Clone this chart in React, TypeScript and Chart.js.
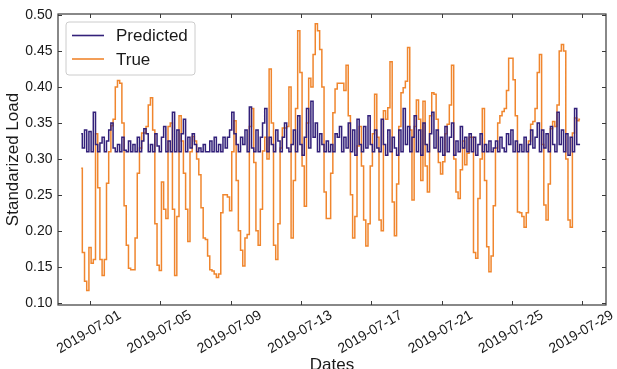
import React, { useEffect, useRef } from 'react';
import { Chart, registerables } from 'chart.js';

Chart.register(...registerables);

// Time grid: days relative to 2019-07-01 00:00, 3-hour steps
const START_DAY = -0.5;
const STEP_DAYS = 0.125;

const TRUE_VALUES = [
  0.287, 0.17, 0.13, 0.117, 0.177, 0.155, 0.16, 0.335,
  0.26, 0.16, 0.138, 0.16, 0.266, 0.31, 0.346, 0.355,
  0.4, 0.409, 0.405, 0.35, 0.235, 0.18, 0.148, 0.146,
  0.146, 0.19, 0.28, 0.315, 0.336, 0.336, 0.345, 0.375,
  0.385, 0.34, 0.21, 0.152, 0.145, 0.268, 0.23, 0.217,
  0.345, 0.35, 0.23, 0.138, 0.22, 0.36, 0.325, 0.28,
  0.23, 0.185, 0.31, 0.331, 0.325, 0.3, 0.278, 0.232,
  0.19, 0.188, 0.165, 0.146, 0.144, 0.14, 0.135, 0.14,
  0.225, 0.25, 0.25, 0.247, 0.228, 0.31, 0.353, 0.27,
  0.2, 0.173, 0.151, 0.19, 0.195, 0.345, 0.37, 0.295,
  0.2, 0.18, 0.23, 0.311, 0.33, 0.3, 0.425, 0.35,
  0.18, 0.16, 0.21, 0.315, 0.343, 0.343, 0.345, 0.4,
  0.19, 0.27, 0.37, 0.478, 0.42, 0.29, 0.234, 0.35,
  0.412, 0.4, 0.445, 0.488, 0.478, 0.452, 0.4, 0.254,
  0.217, 0.217, 0.28, 0.364, 0.397, 0.405, 0.405, 0.405,
  0.395, 0.43, 0.36, 0.25, 0.19, 0.22, 0.318, 0.345,
  0.29, 0.215, 0.179, 0.21, 0.29, 0.335, 0.39, 0.33,
  0.215, 0.2, 0.367, 0.355, 0.371, 0.435, 0.24, 0.193,
  0.265, 0.345, 0.392, 0.399, 0.408, 0.455, 0.34, 0.243,
  0.345, 0.382, 0.355, 0.27, 0.38, 0.29, 0.254, 0.36,
  0.392, 0.39, 0.355, 0.295, 0.279, 0.296, 0.335, 0.348,
  0.375, 0.43, 0.3, 0.254, 0.245, 0.285, 0.325, 0.292,
  0.308, 0.33, 0.33, 0.17, 0.162, 0.245, 0.3, 0.37,
  0.27, 0.178, 0.143, 0.165, 0.235, 0.315, 0.35, 0.36,
  0.366, 0.37, 0.395, 0.44, 0.44, 0.41, 0.36, 0.226,
  0.225, 0.22, 0.205, 0.225, 0.325, 0.348, 0.352, 0.37,
  0.42, 0.445, 0.32, 0.236, 0.215, 0.265, 0.342, 0.352,
  0.345, 0.375, 0.45, 0.459, 0.45, 0.3, 0.215, 0.205,
  0.336, 0.357, 0.353, 0.355,
];

const PREDICTED_VALUES = [
  0.335, 0.315, 0.34, 0.31, 0.338, 0.31, 0.365, 0.32,
  0.31, 0.322, 0.33, 0.31, 0.325, 0.34, 0.35, 0.315,
  0.31, 0.32, 0.31, 0.33, 0.312, 0.31, 0.325, 0.31,
  0.32, 0.31, 0.33, 0.31, 0.325, 0.342, 0.335, 0.31,
  0.32, 0.31, 0.335, 0.318, 0.31, 0.33, 0.345, 0.31,
  0.325, 0.31, 0.365, 0.31, 0.34, 0.31, 0.335, 0.355,
  0.31, 0.33, 0.315, 0.335, 0.32, 0.31, 0.315, 0.31,
  0.32, 0.31, 0.31, 0.325, 0.31, 0.33, 0.31, 0.32,
  0.31, 0.33, 0.315, 0.33, 0.34, 0.365, 0.335, 0.32,
  0.31, 0.33, 0.32, 0.34, 0.31, 0.372, 0.315, 0.31,
  0.34, 0.31, 0.33, 0.35, 0.37, 0.31, 0.33, 0.32,
  0.31, 0.34, 0.325, 0.31, 0.33, 0.35, 0.315, 0.31,
  0.32, 0.34, 0.31, 0.36, 0.32, 0.305, 0.33, 0.37,
  0.315, 0.38, 0.33, 0.35, 0.31, 0.335, 0.32, 0.31,
  0.325, 0.31, 0.32, 0.31, 0.335, 0.33, 0.345, 0.31,
  0.33, 0.315, 0.35, 0.31, 0.34, 0.305, 0.355, 0.32,
  0.31, 0.345, 0.315, 0.36, 0.32, 0.31, 0.34, 0.315,
  0.31, 0.355, 0.32, 0.305, 0.34, 0.31, 0.33, 0.315,
  0.305, 0.34, 0.31, 0.37, 0.32, 0.345, 0.31, 0.33,
  0.36, 0.31, 0.34, 0.305, 0.35, 0.32, 0.31, 0.335,
  0.365, 0.315, 0.34, 0.31, 0.33, 0.305, 0.345, 0.31,
  0.33, 0.35, 0.305, 0.325, 0.31, 0.345, 0.315, 0.33,
  0.31, 0.335, 0.31, 0.33, 0.305, 0.32, 0.335, 0.31,
  0.32, 0.31, 0.325, 0.31, 0.315, 0.325, 0.31, 0.33,
  0.315, 0.31, 0.335, 0.32, 0.34, 0.31, 0.325, 0.31,
  0.32, 0.31, 0.33, 0.31, 0.32, 0.34, 0.315, 0.33,
  0.35, 0.31, 0.34, 0.315, 0.335, 0.31, 0.345, 0.32,
  0.31, 0.365, 0.32, 0.34, 0.31, 0.335, 0.305, 0.33,
  0.31, 0.37, 0.32, 0.32,
];

const X_TICK_DAYS = [0, 4, 8, 12, 16, 20, 24, 28];
const X_TICK_LABELS = [
  '2019-07-01', '2019-07-05', '2019-07-09', '2019-07-13',
  '2019-07-17', '2019-07-21', '2019-07-25', '2019-07-29',
];
const Y_TICKS = [0.1, 0.15, 0.2, 0.25, 0.3, 0.35, 0.4, 0.45, 0.5];

const SERIES_LABELS = ['Predicted', 'True'];
const COLORS = ['#33217a', '#f0862e'];
const FONT = '"Liberation Sans", Arial, sans-serif';

const W = 617;
const H = 376;

const framePlugin = {
  id: 'frameTicks',
  afterDatasetsDraw(chart: any) {
    const { ctx, chartArea: a, scales } = chart;
    ctx.save();
    ctx.strokeStyle = '#3a3a3a';
    ctx.lineWidth = 1.2;
    ctx.strokeRect(a.left, a.top, a.right - a.left, a.bottom - a.top);
    ctx.lineWidth = 1;
    const tl = 4;
    ctx.beginPath();
    for (const t of scales.x.ticks) {
      const px = Math.round(scales.x.getPixelForValue(t.value)) + 0.5;
      ctx.moveTo(px, a.bottom);
      ctx.lineTo(px, a.bottom - tl);
      ctx.moveTo(px, a.top);
      ctx.lineTo(px, a.top + tl);
    }
    for (const t of scales.y.ticks) {
      const py = Math.round(scales.y.getPixelForValue(t.value)) + 0.5;
      ctx.moveTo(a.left, py);
      ctx.lineTo(a.left + tl, py);
      ctx.moveTo(a.right, py);
      ctx.lineTo(a.right - tl, py);
    }
    ctx.stroke();

    // legend
    const bx = 66, by = 22, bw = 129, bh = 53, r = 3;
    ctx.beginPath();
    ctx.moveTo(bx + r, by);
    ctx.lineTo(bx + bw - r, by);
    ctx.quadraticCurveTo(bx + bw, by, bx + bw, by + r);
    ctx.lineTo(bx + bw, by + bh - r);
    ctx.quadraticCurveTo(bx + bw, by + bh, bx + bw - r, by + bh);
    ctx.lineTo(bx + r, by + bh);
    ctx.quadraticCurveTo(bx, by + bh, bx, by + bh - r);
    ctx.lineTo(bx, by + r);
    ctx.quadraticCurveTo(bx, by, bx + r, by);
    ctx.closePath();
    ctx.fillStyle = 'rgba(255,255,255,0.85)';
    ctx.fill();
    ctx.strokeStyle = '#cccccc';
    ctx.lineWidth = 1;
    ctx.stroke();

    chart.data.datasets.forEach((ds: any, i: number) => {
      const ly = i === 0 ? 35.5 : 59;
      ctx.strokeStyle = ds.borderColor;
      ctx.lineWidth = 1.6;
      ctx.beginPath();
      ctx.moveTo(72, ly);
      ctx.lineTo(104, ly);
      ctx.stroke();
      ctx.fillStyle = '#1a1a1a';
      ctx.font = `17px ${FONT}`;
      ctx.textAlign = 'left';
      ctx.textBaseline = 'middle';
      ctx.fillText(ds.label, 116, ly + 1);
    });
    ctx.restore();
  },
};

export default function App() {
  const ref = useRef<HTMLCanvasElement | null>(null);

  useEffect(() => {
    document.body.style.margin = '0';
    const canvas = ref.current;
    if (!canvas) return;
    const toPoints = (vals: number[]) =>
      vals.map((v, i) => ({ x: START_DAY + i * STEP_DAYS, y: v }));

    const chart = new Chart(canvas, {
      type: 'line',
      data: {
        datasets: [
          {
            label: SERIES_LABELS[0],
            data: toPoints(PREDICTED_VALUES),
            borderColor: COLORS[0],
            borderWidth: 1.5,
            pointRadius: 0,
            stepped: 'middle',
          },
          {
            label: SERIES_LABELS[1],
            data: toPoints(TRUE_VALUES),
            borderColor: COLORS[1],
            borderWidth: 1.5,
            pointRadius: 0,
            stepped: 'middle',
          },
        ],
      },
      options: {
        animation: false,
        responsive: false,
        devicePixelRatio: 1,
        layout: { padding: { left: 0, right: 11, top: 14, bottom: 0 } },
        plugins: {
          legend: { display: false },
          tooltip: { enabled: false },
        },
        scales: {
          x: {
            type: 'linear',
            min: -1.821,
            max: 29.35,
            grid: { display: false, drawTicks: false },
            border: { display: false },
            afterBuildTicks: (s: any) => {
              s.ticks = X_TICK_DAYS.map((v) => ({ value: v }));
            },
            afterFit: (s: any) => {
              s.height = H - 305;
            },
            ticks: {
              autoSkip: false,
              minRotation: 30,
              maxRotation: 30,
              labelOffset: 30,
              padding: 2,
              color: '#1a1a1a',
              font: { family: FONT, size: 14 },
              callback: (_v: any, i: number) => X_TICK_LABELS[i],
            },
            title: {
              display: true,
              text: 'Dates',
              color: '#1a1a1a',
              font: { family: FONT, size: 17 },
              padding: { top: 0, bottom: 0 },
            },
          },
          y: {
            type: 'linear',
            min: 0.0969,
            max: 0.5014,
            grid: { display: false, drawTicks: false },
            border: { display: false },
            afterBuildTicks: (s: any) => {
              s.ticks = Y_TICKS.map((v) => ({ value: v }));
            },
            afterFit: (s: any) => {
              s.width = 58;
            },
            ticks: {
              padding: 5.5,
              color: '#1a1a1a',
              font: { family: FONT, size: 14 },
              callback: (v: any) => Number(v).toFixed(2),
            },
            title: {
              display: true,
              text: 'Standarized Load',
              color: '#1a1a1a',
              font: { family: FONT, size: 17 },
              padding: { top: 3, bottom: 0 },
            },
          },
        },
      },
      plugins: [framePlugin],
    });
    return () => chart.destroy();
  }, []);

  return (
    <div style={{ width: W, height: H }}>
      <canvas ref={ref} width={W} height={H} style={{ display: 'block', width: W, height: H }} />
    </div>
  );
}
